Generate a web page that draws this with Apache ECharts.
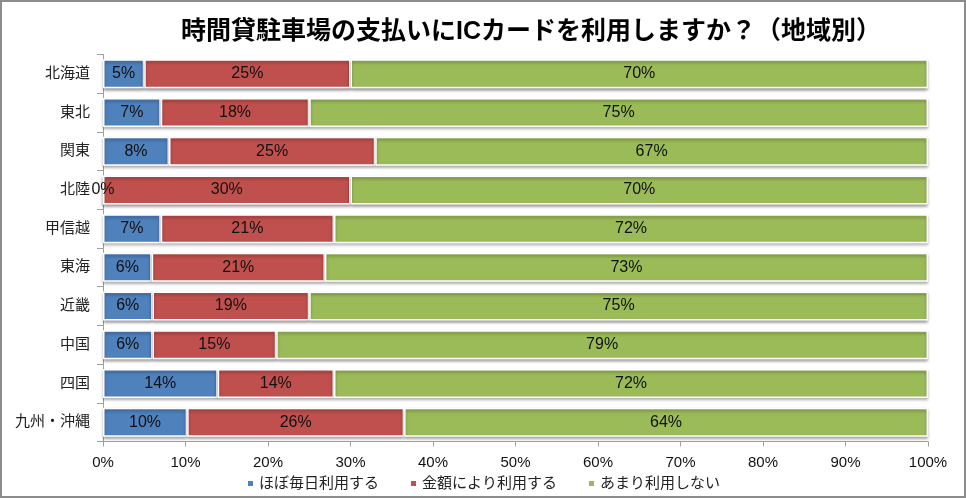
<!DOCTYPE html>
<html><head><meta charset="utf-8">
<script src="https://cdn.jsdelivr.net/npm/echarts@6/dist/echarts.min.js"></script>
<style>html,body{margin:0;padding:0;background:#fff}#c{width:966px;height:498px;box-sizing:border-box;border:2px solid #8c8c8c}</style>
</head><body><div id="c"></div>
<script>
const title = '時間貸駐車場の支払いにICカードを利用しますか？（地域別）';
const categories = ['北海道','東北','関東','北陸','甲信越','東海','近畿','中国','四国','九州・沖縄'];
const seriesNames = ['ほぼ毎日利用する','金額により利用する','あまり利用しない'];
const daily = [5, 7, 8, 0, 7, 5.9, 6, 6, 13.9, 10.2];
const byAmount = [25, 18, 25, 30, 21, 21, 19, 15, 14.1, 26.3];
const rarely = [70, 75, 67, 70, 72, 73.1, 75, 79, 72, 63.5];
const xTicks = [0,10,20,30,40,50,60,70,80,90,100];
const colors = ['#4f81bd','#c0504d','#9bbb59'];

const chart = echarts.init(document.getElementById('c'), null, {renderer:'canvas'});
const font = '"Liberation Sans","Noto Sans CJK JP",sans-serif';
function mk(name, data, color){
  return {
    name, type:'bar', stack:'s', data, barCategoryGap:'25%',
    itemStyle:{color, borderColor:'#fff', borderWidth:1.5, shadowColor:'rgba(0,0,0,0.35)', shadowBlur:3, shadowOffsetY:2},
    label:{show:true, position:'inside', color:'#111', fontSize:16, fontFamily:font,
      formatter:p=>Math.round(p.value)+'%'},
    emphasis:{disabled:true}
  };
}
chart.setOption({
  animation:false,
  title:{text:title, left:524, top:13, textAlign:'center',
    textStyle:{fontSize:25, fontWeight:'bold', color:'#000', fontFamily:font}},
  legend:{bottom:0, left:'center', itemWidth:7, itemHeight:7, itemGap:30,
    icon:'rect', textStyle:{fontSize:15, color:'#222', fontFamily:font}, data:seriesNames},
  grid:{left:101, right:36, top:52.5, bottom:54.5},
  xAxis:{type:'value', min:0, max:100, interval:10,
    axisLine:{show:true, lineStyle:{color:'#a0a0a0', width:1}},
    axisTick:{show:true, length:5, lineStyle:{color:'#a0a0a0'}},
    splitLine:{show:false},
    axisLabel:{fontSize:15, color:'#111', margin:14, fontFamily:font,
      formatter:v=> xTicks.includes(v) ? v+'%' : ''}},
  yAxis:{type:'category', inverse:true, data:categories,
    axisLine:{show:true, lineStyle:{color:'#a0a0a0'}},
    axisTick:{show:true, length:6, lineStyle:{color:'#a0a0a0'}},
    axisLabel:{fontSize:15, color:'#222', margin:13, fontFamily:font}},
  series:[mk(seriesNames[0], daily, colors[0]), mk(seriesNames[1], byAmount, colors[1]), mk(seriesNames[2], rarely, colors[2])]
});
</script></body></html>
